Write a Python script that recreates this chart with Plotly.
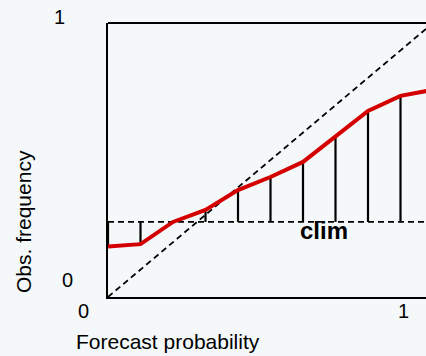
import plotly.graph_objects as go

# Reliability diagram: observed frequency per forecast-probability bin
forecast_prob = [0.0, 0.1, 0.2, 0.3, 0.4, 0.5, 0.6, 0.7, 0.8, 0.9, 1.0]
obs_freq = [0.184, 0.193, 0.274, 0.318, 0.390, 0.438, 0.493, 0.584, 0.679, 0.734, 0.756]
clim = 0.274
diag_x = [0.0, 1.0]
diag_y = [0.0, 1.0]

W, H = 426, 356
ML, MR, MT, MB = 108, 0, 23, 59
PW, PH = W - ML - MR, H - MT - MB
X_UNIT = 325.0  # pixels per unit forecast probability
BG = "#f4f8f9"
FONT = "Liberation Sans, Arial, sans-serif"

# stems from the climatology line to each observed frequency
stem_x, stem_y = [], []
for p, o in zip(forecast_prob, obs_freq):
    stem_x += [p, p, None]
    stem_y += [clim, o, None]

fig = go.Figure()
fig.add_trace(go.Scatter(x=stem_x, y=stem_y, mode="lines",
                         line=dict(color="black", width=2.2), hoverinfo="skip"))
fig.add_trace(go.Scatter(x=diag_x, y=diag_y, mode="lines",
                         line=dict(color="black", width=1.8, dash="6px,4px")))
fig.add_trace(go.Scatter(x=[0.0, 1.0], y=[clim, clim], mode="lines",
                         line=dict(color="black", width=1.8, dash="6px,4px")))
fig.add_trace(go.Scatter(x=forecast_prob, y=obs_freq, mode="lines",
                         line=dict(color="#d40000", width=4)))


def px_x(px):
    return (px - ML) / PW


def px_y(py):
    return (MT + PH - py) / PH


ann = []
# tick labels
for txt, x, y in [("0", 83, 311), ("1", 403, 311), ("0", 67, 280), ("1", 59, 17)]:
    ann.append(dict(text=txt, x=px_x(x), y=px_y(y), xref="paper", yref="paper",
                    showarrow=False, xanchor="center", yanchor="middle",
                    font=dict(family=FONT, size=20, color="black")))
# axis titles
ann.append(dict(text="Forecast probability", x=px_x(167.5), y=px_y(341),
                xref="paper", yref="paper", showarrow=False,
                xanchor="center", yanchor="middle",
                font=dict(family=FONT, size=21, color="black")))
ann.append(dict(text="Obs. frequency", x=px_x(23), y=px_y(222),
                xref="paper", yref="paper", showarrow=False, textangle=-90,
                xanchor="center", yanchor="middle",
                font=dict(family=FONT, size=21, color="black")))
# climatology label
ann.append(dict(text="<b>clim</b>", x=0.665, y=clim, xref="x", yref="y",
                yshift=-9, showarrow=False, xanchor="center", yanchor="middle",
                font=dict(family=FONT, size=24, color="black")))

fig.update_layout(
    width=W, height=H,
    margin=dict(l=ML, r=MR, t=MT, b=MB, pad=0),
    paper_bgcolor=BG, plot_bgcolor=BG,
    showlegend=False,
    annotations=ann,
    shapes=[dict(type="line", xref="paper", yref="paper", x0=0, x1=1, y0=1, y1=1,
                 line=dict(color="black", width=2))],
    xaxis=dict(range=[0, PW / X_UNIT], showgrid=False, zeroline=False,
               showticklabels=False, ticks="", showline=True,
               linecolor="black", linewidth=2, fixedrange=True),
    yaxis=dict(range=[0, 1], showgrid=False, zeroline=False,
               showticklabels=False, ticks="", showline=True,
               linecolor="black", linewidth=2, fixedrange=True),
)

fig.write_html("out.html", config={"displayModeBar": False})
